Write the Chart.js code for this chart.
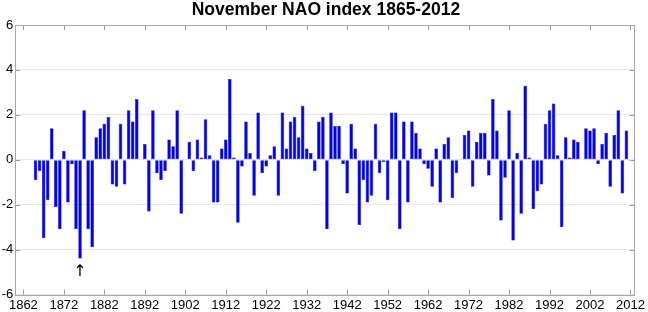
<!DOCTYPE html>
<html>
<head>
<meta charset="utf-8">
<script src="https://cdn.jsdelivr.net/npm/chart.js@4.4.0/dist/chart.umd.min.js"></script>
<style>
  html, body { margin: 0; padding: 0; background: #fff; }
  #wrap { width: 648px; height: 312px; }
</style>
</head>
<body>
<div id="wrap"><canvas id="naoChart" width="648" height="312"></canvas></div>
<script>
const chartTitle = 'November NAO index 1865-2012';

const years = [
  1865, 1866, 1867, 1868, 1869, 1870, 1871, 1872, 1873, 1874,
  1875, 1876, 1877, 1878, 1879, 1880, 1881, 1882, 1883, 1884,
  1885, 1886, 1887, 1888, 1889, 1890, 1891, 1892, 1893, 1894,
  1895, 1896, 1897, 1898, 1899, 1900, 1901, 1902, 1903, 1904,
  1905, 1906, 1907, 1908, 1909, 1910, 1911, 1912, 1913, 1914,
  1915, 1916, 1917, 1918, 1919, 1920, 1921, 1922, 1923, 1924,
  1925, 1926, 1927, 1928, 1929, 1930, 1931, 1932, 1933, 1934,
  1935, 1936, 1937, 1938, 1939, 1940, 1941, 1942, 1943, 1944,
  1945, 1946, 1947, 1948, 1949, 1950, 1951, 1952, 1953, 1954,
  1955, 1956, 1957, 1958, 1959, 1960, 1961, 1962, 1963, 1964,
  1965, 1966, 1967, 1968, 1969, 1970, 1971, 1972, 1973, 1974,
  1975, 1976, 1977, 1978, 1979, 1980, 1981, 1982, 1983, 1984,
  1985, 1986, 1987, 1988, 1989, 1990, 1991, 1992, 1993, 1994,
  1995, 1996, 1997, 1998, 1999, 2000, 2001, 2002, 2003, 2004,
  2005, 2006, 2007, 2008, 2009, 2010, 2011
];

const naoValues = [
  -0.9, -0.5, -3.5, -1.8,  1.4, -2.1, -3.1,  0.4, -1.9, -0.2,
  -3.1, -4.4,  2.2, -3.1, -3.9,  1.0,  1.4,  1.6,  1.9, -1.1,
  -1.2,  1.6, -1.1,  2.2,  1.7,  2.7,  0.0,  0.7, -2.3,  2.2,
  -0.6, -0.9, -0.5,  0.9,  0.6,  2.2, -2.4,  0.0,  0.8, -0.5,
   0.9,  0.1,  1.8,  0.2, -1.9, -1.9,  0.5,  0.9,  3.6,  0.1,
  -2.8, -0.3,  1.7,  0.3, -1.6,  2.1, -0.6, -0.3,  0.2,  0.6,
  -1.6,  2.1,  0.5,  1.7,  1.9,  1.0,  2.4,  0.5,  0.3, -0.5,
   1.7,  1.9, -3.1,  2.1,  1.5,  1.5, -0.2, -1.5,  1.6,  0.5,
  -2.9, -0.9, -1.9, -1.6,  1.6, -0.6, -0.1, -1.8,  2.1,  2.1,
  -3.1,  1.7, -1.9,  1.7,  1.2,  0.5, -0.2, -0.4, -1.2,  0.5,
  -1.9,  0.7,  1.0, -1.7, -0.6,  0.0,  1.1,  1.3, -1.2,  0.8,
   1.2,  1.2, -0.7,  2.7,  1.3, -2.7, -0.8,  2.2, -3.6,  0.3,
  -2.4,  3.3,  0.1, -2.2, -1.4, -1.1,  1.6,  2.2,  2.5,  0.2,
  -3.0,  1.0,  0.1,  0.9,  0.8,  0.0,  1.4,  1.3,  1.4, -0.2,
   0.7,  1.2, -1.2,  1.1,  2.2, -1.5,  1.3
];

const xTickYears = [1862, 1872, 1882, 1892, 1902, 1912, 1922, 1932, 1942, 1952, 1962, 1972, 1982, 1992, 2002, 2012];
const yTickValues = [-6, -4, -2, 0, 2, 4, 6];

// the arrow under the lowest bar
const arrowYear = 1876;
const arrowValue = -5.0;

const fontFamily = '"Liberation Sans", Arial, sans-serif';

// title, box and inward tick marks, drawn the matlab way
const framePlugin = {
  id: 'framePlugin',
  afterDatasetsDraw(chart) {
    const { ctx, chartArea: a, scales } = chart;
    const xs = scales.x, ys = scales.y;
    ctx.save();
    ctx.strokeStyle = '#9a9a9a';
    ctx.lineWidth = 1;
    ctx.beginPath();
    xTickYears.forEach(v => {
      const px = Math.round(xs.getPixelForValue(v)) + 0.5;
      ctx.moveTo(px, a.bottom); ctx.lineTo(px, a.bottom - 5);
      ctx.moveTo(px, a.top); ctx.lineTo(px, a.top + 5);
    });
    yTickValues.forEach(v => {
      const py = Math.round(ys.getPixelForValue(v)) + 0.5;
      ctx.moveTo(a.left, py); ctx.lineTo(a.left + 5, py);
      ctx.moveTo(a.right, py); ctx.lineTo(a.right - 5, py);
    });
    ctx.stroke();
    ctx.strokeStyle = '#a8a8a8';
    ctx.strokeRect(Math.round(a.left) + 0.5, Math.round(a.top) + 0.5,
      Math.round(a.right - a.left), Math.round(a.bottom - a.top));
    ctx.restore();
  },
  afterDraw(chart) {
    const { ctx, chartArea: a, scales } = chart;
    ctx.save();
    ctx.fillStyle = '#000';
    ctx.font = 'bold 17.5px ' + fontFamily;
    ctx.textAlign = 'center';
    ctx.textBaseline = 'alphabetic';
    ctx.fillText(chartTitle, (a.left + a.right) / 2 + 1, 15);

    ctx.font = '16px "DejaVu Sans"';
    ctx.textBaseline = 'middle';
    ctx.fillText('\u2191', scales.x.getPixelForValue(arrowYear), scales.y.getPixelForValue(arrowValue));
    ctx.restore();
  }
};

const ctx = document.getElementById('naoChart').getContext('2d');
new Chart(ctx, {
  type: 'bar',
  data: {
    datasets: [{
      label: 'NAO',
      data: years.map((y, i) => ({ x: y, y: naoValues[i] })),
      backgroundColor: '#0000ff',
      borderColor: '#000080',
      borderWidth: 0.5,
      borderSkipped: false,
      barPercentage: 0.88,
      categoryPercentage: 1.0
    }]
  },
  options: {
    responsive: false,
    animation: false,
    devicePixelRatio: 1,
    layout: { padding: { top: 25, right: 12, bottom: 0, left: 0 } },
    plugins: {
      legend: { display: false },
      tooltip: { enabled: false },
      title: { display: false }
    },
    scales: {
      x: {
        type: 'linear',
        min: 1860,
        max: 2013,
        offset: false,
        grid: { display: false, drawTicks: false },
        border: { display: false },
        ticks: {
          autoSkip: false,
          maxRotation: 0,
          padding: 3,
          color: '#000',
          font: { family: fontFamily, size: 13 },
          callback: v => String(v)
        },
        afterBuildTicks: s => { s.ticks = xTickYears.map(v => ({ value: v })); },
        afterFit: s => { s.height = 17.5; }
      },
      y: {
        min: -6,
        max: 6,
        grid: { color: '#e6e6e6', drawTicks: false },
        border: { display: false },
        ticks: {
          stepSize: 2,
          padding: 2,
          color: '#000',
          font: { family: fontFamily, size: 13 }
        },
        afterBuildTicks: s => { s.ticks = yTickValues.map(v => ({ value: v })); },
        afterFit: s => { s.width = 15.3; }
      }
    }
  },
  plugins: [framePlugin]
});
</script>
</body>
</html>
